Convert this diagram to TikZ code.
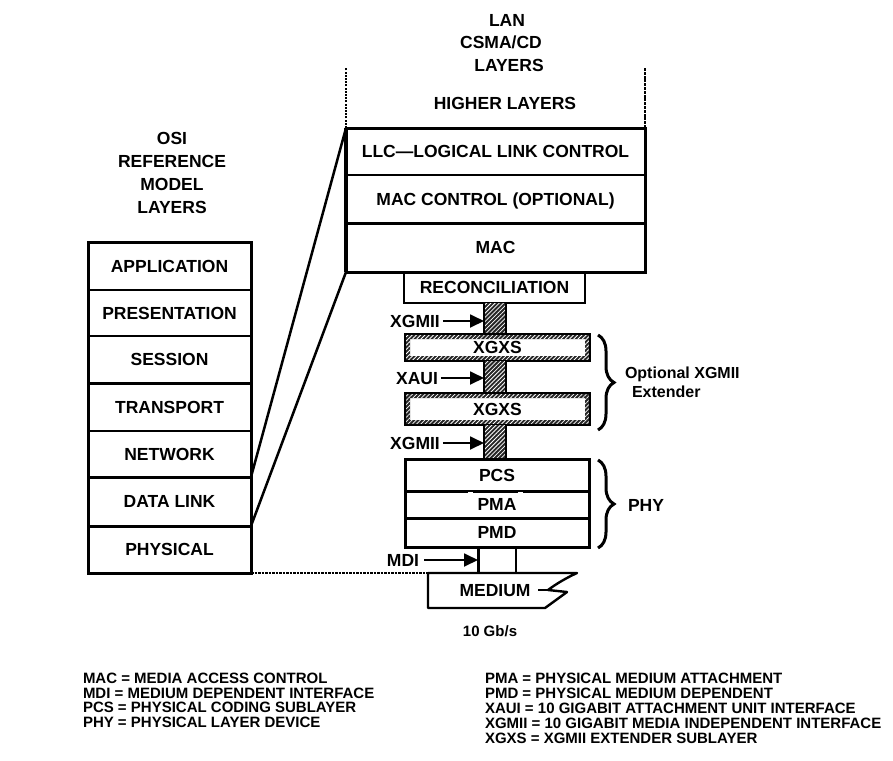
\documentclass[tikz,border=0pt]{standalone}
\usepackage{fontspec}
\setmainfont{Liberation Sans}
\usetikzlibrary{arrows.meta,patterns.meta,decorations.pathreplacing}

% hatched frame round an extender sublayer box
\newcommand\hatchframe[1]{%
  \fill[black!85, even odd rule] (#1.north west) rectangle (#1.south east)
    ([xshift=5pt,yshift=-5pt]#1.north west) rectangle ([xshift=-5pt,yshift=5pt]#1.south east);
  \fill[pattern={Lines[angle=45,distance=3pt,line width=0.8pt]}, pattern color=white, even odd rule]
    (#1.north west) rectangle (#1.south east)
    ([xshift=5pt,yshift=-5pt]#1.north west) rectangle ([xshift=-5pt,yshift=5pt]#1.south east);
  \draw[line width=2.4pt] (#1.north west) rectangle (#1.south east);
}
% hatched interface strip between sublayers
\newcommand\hatchstrip[1]{%
  \fill[black!85] (#1.north west) rectangle (#1.south east);
  \fill[pattern={Lines[angle=45,distance=3pt,line width=0.8pt]}, pattern color=white]
    (#1.north west) rectangle (#1.south east);
  \draw[line width=2.4pt] (#1.north west) -- (#1.south west) (#1.north east) -- (#1.south east);
}

\begin{document}
\begin{tikzpicture}[x=1pt,y=-1pt,
  lbl/.style={font=\fontsize{17.5}{20}\selectfont\bfseries, inner sep=0pt, outer sep=0pt,
              text height=12.5pt, text depth=0pt},
  title/.style={font=\fontsize{17.5}{23}\selectfont\bfseries, inner sep=0pt, outer sep=0pt, align=center},
  layerbox/.style={lbl, draw, line width=2pt},
  osibox/.style={layerbox, minimum width=163pt},
  lanbox/.style={layerbox, minimum width=299pt},
  phybox/.style={layerbox, minimum width=184pt},
  stripbox/.style={inner sep=0pt, outer sep=0pt, minimum width=22pt},
  legend/.style={font=\fontsize{15}{18}\selectfont\bfseries, inner sep=0pt, outer sep=0pt,
                 anchor=west, text height=10.7pt, text depth=0pt},
  heavy/.style={line width=3pt},
  pointer/.style={line width=1.8pt, -{Triangle[length=14pt,width=13pt]}},
  bracket/.style={line width=3pt, decorate, decoration={brace, amplitude=16pt}},
]
\useasboundingbox (0,0) rectangle (893,760);

% ---- OSI reference model ----
\node[title] (osititle) at (172,172.5) {OSI\\REFERENCE\\MODEL\\LAYERS};
\node[osibox, minimum height=48pt] (app)   at (169.5,266)   {APPLICATION};
\node[osibox, minimum height=46pt] (pres)  at (169.5,313)   {PRESENTATION};
\node[osibox, minimum height=47pt] (sess)  at (169.5,359.5) {SESSION};
\node[osibox, minimum height=48pt] (trans) at (169.5,407)   {TRANSPORT};
\node[osibox, minimum height=46pt] (net)   at (169.5,454)   {NETWORK};
\node[osibox, minimum height=49pt] (dlink) at (169.5,501.5) {DATA LINK};
\node[osibox, minimum height=47pt] (phys)  at (169.5,549.5) {PHYSICAL};
\draw[heavy] (app.north west) rectangle (phys.south east);
\draw[heavy] (sess.south west) -- (sess.south east);
\draw[heavy] (net.south west) -- (net.south east);
\draw[heavy] (dlink.south west) -- (dlink.south east);

% ---- LAN CSMA/CD layers ----
\node[lbl] (lan1) at (507,20) {LAN};
\node[lbl] (lan2) at (501,42) {CSMA/CD};
\node[lbl] (lan3) at (509,65) {LAYERS};
\node[lbl] (higher) at (505,103) {HIGHER LAYERS};
\node[lanbox, minimum height=47pt] (llc)    at (495.5,151.5) {LLC—LOGICAL LINK CONTROL};
\node[lanbox, minimum height=48pt] (macctl) at (495.5,199)   {MAC CONTROL (OPTIONAL)};
\node[lanbox, minimum height=49pt] (mac)    at (495.5,247.5) {MAC};
\draw[heavy] (llc.north west) rectangle (mac.south east);
\draw[line width=3.5pt] (llc.north west) -- (mac.south west);
\draw[heavy] (macctl.south west) -- (macctl.south east);
\coordinate (lanTL) at (346,68);
\coordinate (lanTR) at (645,68);
\draw[line width=1.8pt, dash pattern=on 2pt off 1.2pt] (llc.north west) -- (lanTL);
\draw[line width=2.2pt, dash pattern=on 3pt off 0.8pt] (llc.north east) -- (lanTR);

% data link layer expands into the LAN sublayers
\draw[line width=2.5pt] (dlink.north east) -- (llc.north west);
\draw[line width=2.5pt] (dlink.south east) -- (mac.south west);

% ---- reconciliation and extender ----
\node[layerbox, minimum width=181pt, minimum height=31pt] (recon) at (494.5,287.5) {RECONCILIATION};
\node[stripbox, minimum height=31pt] (s1) at (495,318.5) {};
\hatchstrip{s1}
\node[lbl, minimum width=185pt, minimum height=27pt] (xgxsA) at (497.5,347.5) {XGXS};
\hatchframe{xgxsA}
\node[stripbox, minimum height=32pt] (s2) at (495,377) {};
\hatchstrip{s2}
\node[lbl, minimum width=185pt, minimum height=32pt] (xgxsB) at (497.5,409) {XGXS};
\hatchframe{xgxsB}
\node[stripbox, minimum height=34pt] (s3) at (495,442) {};
\hatchstrip{s3}

% ---- PHY ----
\node[phybox, minimum height=32pt] (pcs) at (497,475)   {PCS};
\node[phybox, minimum height=27pt] (pma) at (497,504.5) {PMA};
\node[phybox, minimum height=29pt] (pmd) at (497,532.5) {PMD};
\draw[heavy] (pcs.north west) rectangle (pmd.south east);
\draw[heavy, dash pattern=on 63pt off 5pt on 45pt off 5pt on 90pt] (pcs.south west) -- (pcs.south east);
\draw[heavy] (pma.south west) -- (pma.south east);
\node[draw, line width=2pt, inner sep=0pt, outer sep=0pt, minimum width=38pt, minimum height=26pt] (mdibox) at (497,560) {};
\draw[heavy] (mdibox.north west) -- (mdibox.south west);

% ---- medium ----
\coordinate (medTL) at (428,573);
\node[lbl] (medium) at (495,590) {MEDIUM};
\draw[line width=2.4pt, line join=round] (medTL) -- (577,573)
  .. controls (566,578) and (556,584) .. (548,590) -- (567,592) -- (545,608) -- (428,608) -- cycle;
\draw[line width=2.4pt] (538,590) -- (548,590);
\draw[line width=2.8pt, dash pattern=on 2.5pt off 1pt] (phys.south east) -- (medTL);
\node[lbl, font=\fontsize{15}{18}\selectfont\bfseries, text height=10.7pt] (rate) at (490,631) {10 Gb/s};

% ---- interface pointers ----
\node[lbl] (gmiiA) at (415,321) {XGMII};
\draw[pointer] ([xshift=3pt]gmiiA.east) -- (gmiiA.east -| s1.west);
\node[lbl] (xaui) at (417,378) {XAUI};
\draw[pointer] ([xshift=3pt]xaui.east) -- (xaui.east -| s2.west);
\node[lbl] (gmiiB) at (415,443) {XGMII};
\draw[pointer] ([xshift=3pt]gmiiB.east) -- (gmiiB.east -| s3.west);
\node[lbl] (mdi) at (403,560) {MDI};
\draw[pointer] ([xshift=5pt]mdi.east) -- (mdibox.west);

% ---- braces ----
\coordinate (extTop) at (598,335);
\coordinate (extBot) at (598,430);
\draw[bracket] (extTop) -- (extBot);
\node[lbl, anchor=west, font=\fontsize{16}{19}\selectfont\bfseries, text height=11.5pt] (ext1) at (625,373) {Optional XGMII};
\node[lbl, anchor=west, font=\fontsize{16}{19}\selectfont\bfseries, text height=11.5pt] (ext2) at (632,392) {Extender};
\coordinate (phyTop) at (598,460);
\coordinate (phyBot) at (598,548);
\draw[bracket] (phyTop) -- (phyBot);
\node[lbl, anchor=west] (phylbl) at (628,505) {PHY};

% ---- abbreviations ----
\node[legend] (k1) at (83,678) {MAC = MEDIA ACCESS CONTROL};
\node[legend] (k2) at (83,693) {MDI = MEDIUM DEPENDENT INTERFACE};
\node[legend] (k3) at (83,707) {PCS = PHYSICAL CODING SUBLAYER};
\node[legend] (k4) at (83,722) {PHY = PHYSICAL LAYER DEVICE};
\node[legend] (k5) at (485,678) {PMA = PHYSICAL MEDIUM ATTACHMENT};
\node[legend] (k6) at (485,693) {PMD = PHYSICAL MEDIUM DEPENDENT};
\node[legend] (k7) at (485,708) {XAUI = 10 GIGABIT ATTACHMENT UNIT INTERFACE};
\node[legend] (k8) at (485,723) {XGMII = 10 GIGABIT MEDIA INDEPENDENT INTERFACE};
\node[legend] (k9) at (485,738) {XGXS = XGMII EXTENDER SUBLAYER};
\end{tikzpicture}
\end{document}
